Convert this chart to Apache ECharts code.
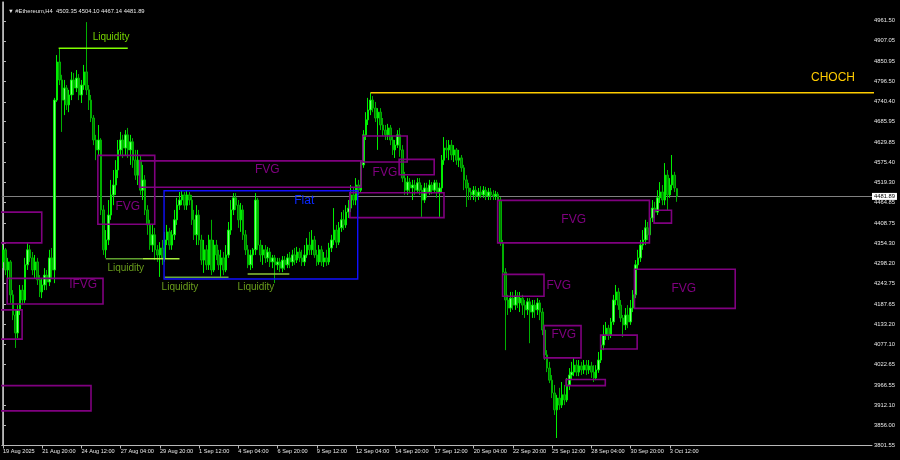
<!DOCTYPE html>
<html><head><meta charset="utf-8">
<script src="https://cdn.jsdelivr.net/npm/echarts@6/dist/echarts.min.js"></script>
<style>html,body{margin:0;padding:0;background:#000}#c{width:900px;height:460px}</style>
</head><body><div id="c"></div>
<script>
// H4 candles [open, close, low, high], first bar 19 Aug 2025 04:00
const candles = [
[4303,4336,4286,4349],[4336,4281,4267,4341],[4281,4303,4199,4314],[4303,4213,4191,4308],
[4213,4158,4144,4226],[4158,4109,4068,4172],[4109,4172,4095,4185],[4172,4226,4158,4240],
[4226,4199,4185,4240],[4199,4295,4191,4314],[4295,4336,4281,4355],[4336,4314,4303,4349],
[4314,4281,4267,4330],[4281,4303,4259,4322],[4303,4254,4240,4314],[4254,4221,4207,4267],
[4221,4240,4204,4259],[4240,4267,4226,4286],[4267,4248,4226,4281],[4248,4314,4237,4336],
[4314,4281,4259,4341],[4281,4745,4245,4751],[4745,4849,4740,4868],[4849,4800,4786,4887],
[4800,4745,4658,4814],[4745,4778,4704,4800],[4778,4732,4718,4786],[4732,4759,4712,4773],
[4759,4800,4745,4822],[4800,4778,4759,4819],[4778,4805,4767,4827],[4805,4759,4745,4816],
[4759,4786,4737,4800],[4786,4822,4773,4841],[4822,4773,4759,4958],[4773,4745,4718,4786],
[4745,4696,4685,4759],[4696,4636,4622,4704],[4636,4609,4581,4650],[4609,4636,4595,4677],
[4636,4445,4431,4641],[4445,4336,4322,4458],[4336,4363,4314,4390],[4363,4431,4349,4472],
[4431,4486,4418,4527],[4486,4513,4458,4554],[4513,4554,4486,4581],[4554,4609,4532,4636],
[4609,4636,4595,4658],[4636,4614,4587,4650],[4614,4650,4595,4663],[4650,4609,4587,4669],
[4609,4631,4568,4650],[4631,4581,4560,4641],[4581,4540,4527,4609],[4540,4581,4513,4609],
[4581,4499,4486,4595],[4499,4527,4472,4568],[4527,4445,4431,4540],[4445,4404,4377,4458],
[4404,4349,4336,4418],[4349,4377,4330,4404],[4377,4336,4308,4396],[4336,4322,4303,4349],
[4322,4341,4262,4357],[4341,4314,4295,4363],[4314,4363,4303,4385],[4363,4385,4349,4404],
[4385,4349,4336,4396],[4349,4377,4336,4390],[4377,4418,4363,4445],[4418,4458,4404,4478],
[4458,4472,4445,4494],[4472,4486,4458,4499],[4486,4458,4445,4494],[4458,4486,4445,4499],
[4486,4472,4458,4494],[4472,4418,4404,4486],[4418,4377,4363,4445],[4377,4431,4349,4458],
[4431,4363,4349,4445],[4363,4308,4295,4377],[4308,4336,4273,4363],[4336,4295,4281,4349],
[4295,4363,4281,4377],[4363,4281,4267,4418],[4281,4349,4275,4363],[4349,4322,4308,4363],
[4322,4295,4281,4336],[4295,4314,4262,4336],[4314,4281,4267,4330],[4281,4322,4275,4349],
[4322,4390,4314,4412],[4390,4445,4377,4472],[4445,4478,4431,4491],[4478,4458,4445,4491],
[4458,4418,4396,4472],[4418,4445,4385,4464],[4445,4377,4363,4458],[4377,4336,4322,4390],
[4336,4295,4286,4349],[4295,4322,4281,4336],[4322,4336,4286,4341],[4336,4472,4322,4491],
[4472,4349,4336,4478],[4349,4322,4303,4363],[4322,4336,4295,4349],[4336,4314,4300,4349],
[4314,4330,4303,4344],[4330,4303,4289,4341],[4303,4314,4286,4322],[4314,4295,4245,4322],
[4295,4303,4281,4314],[4303,4286,4275,4314],[4286,4308,4275,4319],[4308,4295,4281,4319],
[4295,4314,4286,4325],[4314,4303,4286,4330],[4303,4322,4292,4336],[4322,4308,4295,4341],
[4308,4330,4300,4344],[4330,4314,4303,4341],[4314,4303,4292,4336],[4303,4322,4292,4349],
[4322,4349,4314,4368],[4349,4336,4322,4385],[4336,4363,4322,4390],[4363,4322,4314,4374],
[4322,4303,4292,4336],[4303,4336,4295,4349],[4336,4303,4292,4347],[4303,4314,4289,4330],
[4314,4303,4292,4336],[4303,4341,4295,4355],[4341,4363,4330,4377],[4363,4390,4349,4450],
[4390,4357,4341,4404],[4357,4396,4349,4412],[4396,4418,4385,4439],[4418,4404,4390,4445],
[4404,4439,4396,4458],[4439,4450,4423,4472],[4450,4486,4439,4513],[4486,4472,4458,4505],
[4472,4513,4458,4532],[4513,4499,4486,4527],[4499,4568,4494,4581],[4568,4650,4560,4663],
[4650,4691,4636,4712],[4691,4718,4677,4751],[4718,4745,4704,4765],[4745,4723,4712,4756],
[4723,4696,4685,4740],[4696,4712,4609,4723],[4712,4677,4663,4723],[4677,4663,4647,4696],
[4663,4650,4636,4677],[4650,4669,4636,4680],[4669,4636,4622,4677],[4636,4609,4595,4647],
[4609,4622,4587,4636],[4622,4650,4614,4663],[4650,4609,4590,4669],[4609,4532,4521,4622],
[4532,4499,4486,4549],[4499,4521,4486,4538],[4521,4505,4494,4532],[4505,4513,4472,4527],
[4513,4499,4486,4527],[4499,4519,4491,4532],[4519,4499,4486,4532],[4499,4472,4426,4513],
[4472,4505,4464,4519],[4505,4494,4478,4519],[4494,4513,4486,4527],[4513,4499,4488,4521],
[4499,4519,4491,4527],[4519,4494,4478,4527],[4494,4505,4426,4519],[4505,4581,4494,4595],
[4581,4614,4568,4644],[4614,4609,4587,4636],[4609,4622,4581,4636],[4622,4595,4581,4636],
[4595,4609,4576,4622],[4609,4581,4568,4614],[4581,4587,4562,4609],[4587,4560,4549,4595],
[4560,4527,4499,4568],[4527,4505,4453,4540],[4505,4494,4472,4519],[4494,4486,4472,4505],
[4486,4499,4472,4510],[4499,4483,4467,4510],[4483,4494,4472,4505],[4494,4486,4478,4510],
[4486,4499,4478,4510],[4499,4483,4472,4508],[4483,4494,4472,4505],[4494,4486,4472,4505],
[4486,4483,4472,4499],[4483,4488,4472,4497],[4488,4472,4464,4494],[4472,4355,4347,4480],
[4355,4275,4265,4363],[4275,4199,4062,4286],[4199,4177,4158,4213],[4177,4204,4166,4221],
[4204,4185,4172,4221],[4185,4210,4172,4226],[4210,4191,4177,4221],[4191,4204,4166,4221],
[4204,4185,4158,4213],[4185,4172,4150,4199],[4172,4194,4158,4204],[4194,4166,4081,4204],
[4166,4185,4150,4199],[4185,4172,4150,4199],[4172,4191,4158,4204],[4191,4166,4144,4199],
[4166,4117,4103,4177],[4117,4049,4035,4131],[4049,4013,4002,4062],[4013,3980,3972,4030],
[3980,3945,3931,3994],[3945,3899,3885,3967],[3899,3931,3822,3940],[3931,3912,3899,3959],
[3912,3940,3904,3975],[3940,3926,3912,3967],[3926,3967,3920,3986],[3967,3994,3953,4013],
[3994,4002,3980,4030],[4002,4021,3991,4041],[4021,4002,3991,4035],[4002,4019,3991,4035],
[4019,4008,3994,4030],[4008,4021,3997,4035],[4021,4008,3994,4035],[4008,4019,3997,4035],
[4019,4002,3986,4030],[4002,3986,3975,4021],[3986,4008,3980,4021],[4008,4035,4000,4057],
[4035,4076,4027,4090],[4076,4103,4062,4131],[4103,4122,4090,4139],[4122,4103,4090,4131],
[4103,4139,4095,4150],[4139,4199,4131,4213],[4199,4221,4185,4240],[4221,4185,4172,4232],
[4185,4150,4139,4199],[4150,4131,4098,4158],[4131,4158,4117,4177],[4158,4139,4122,4185],
[4139,4177,4131,4199],[4177,4213,4166,4226],[4213,4295,4204,4308],[4295,4314,4281,4336],
[4314,4349,4303,4363],[4349,4363,4336,4390],[4363,4396,4349,4418],[4396,4377,4363,4412],
[4377,4423,4368,4439],[4423,4450,4412,4472],[4450,4439,4423,4467],[4439,4478,4431,4499],
[4478,4494,4464,4521],[4494,4472,4458,4513],[4472,4540,4458,4573],[4540,4486,4445,4554],
[4486,4513,4478,4532],[4513,4540,4499,4595],[4540,4505,4494,4549],[4503.35,4481.89,4467.14,4504.10]
];
const slotCount = 355;               // bar slots across the chart window
const xTickLabels = ['19 Aug 2025','21 Aug 20:00','24 Aug 12:00','27 Aug 04:00','29 Aug 20:00','1 Sep 12:00','4 Sep 04:00','6 Sep 20:00','9 Sep 12:00','12 Sep 04:00','14 Sep 20:00','17 Sep 12:00','20 Sep 04:00','22 Sep 20:00','25 Sep 12:00','28 Sep 04:00','30 Sep 20:00','3 Oct 12:00'];
const xTickStep = 16;
const yTickValues = [4961.50,4907.05,4850.95,4796.50,4740.40,4685.95,4629.85,4575.40,4519.30,4464.85,4408.75,4354.30,4298.20,4243.75,4187.65,4133.20,4077.10,4022.65,3966.55,3912.10,3856.00,3801.55];
const yMin = 3801.55, yMax = 5012.9;
// zones: [fromBar, toBar, upperPrice, lowerPrice]
const fvgBoxes = [
 [-2,15.8,4439,4355],[1.7,40.8,4258,4188],[-2,7.8,4172,4092],[-2,35.9,3965,3896],
 [38.7,61.9,4594,4406],[55.7,146.1,4579,4507],[141.5,179.9,4492,4424],[146.8,164.9,4647,4576],
 [161.6,175.9,4583,4541],[201.8,263.7,4471,4355],[203.8,220.7,4269,4209],[220.7,235.8,4129,4041],
 [229.7,245.7,3982,3965],[243.8,258.7,4103,4065],[257.6,298.7,4283,4176],[265.6,272.7,4444,4409]
];
const fvgLabels = [['IFVG',32.7,4242],['FVG',50.9,4454],['FVG',107.8,4554],['FVG',155.8,4547],
 ['FVG',232.8,4418],['FVG',226.7,4237],['FVG',228.8,4103],['FVG',277.7,4230]];
const flatBox = [65.7,144.7,4497.5,4256.3];
const flatLabel = ['Flat',122.9,4469];
// liquidity: [fromBar, toBar, price]
const liquidityLines = [[22.7,50.9,4886.5],[41.9,57.0,4311.8],[57.0,72.0,4311.8],[65.9,92.0,4261],[99.8,116.8,4270]];
const liquidityLabels = [['Liquidity',36.6,4916],['Liquidity',42.6,4286],['Liquidity',64.7,4234.5],['Liquidity',95.7,4234.5]];
const chochLine = [149.9,360,4765];
const chochLabel = ['CHOCH',338.6,4805];

const last = candles[candles.length-1];
const fmt = v => Number(v).toFixed(2);
const titleText = '▼ #Ethereum,H4  ' + [last[0],last[3],last[2],last[1]].map(fmt).join(' ');
const categories = Array.from({length: slotCount}, (_, i) => String(i));
const isTick = i => i % xTickStep === 0 && i / xTickStep < xTickLabels.length;

const chart = echarts.init(document.getElementById('c'), null, {renderer: 'canvas'});
const FONT = 'Liberation Sans';

function textSeries(list, color, size, align) {
  return {
    type: 'custom', xAxisIndex: 1, yAxisIndex: 0, silent: true, clip: false, z: 20,
    data: list.map(d => [d[1], d[2]]),
    renderItem: (params, api) => {
      const p = api.coord([api.value(0), api.value(1)]);
      return {type: 'text', x: p[0], y: p[1], style: {text: list[params.dataIndex][0], fill: color,
        fontSize: size, fontFamily: FONT, align: align, verticalAlign: 'middle'}};
    }
  };
}
function boxSeries(list, color, width) {
  return {
    type: 'custom', xAxisIndex: 1, yAxisIndex: 0, silent: true, clip: true, z: 15,
    encode: {x: [0, 1], y: [2, 3]},
    data: list,
    renderItem: (params, api) => {
      const a = api.coord([api.value(0), api.value(2)]);
      const b = api.coord([api.value(1), api.value(3)]);
      return {type: 'rect', shape: {x: a[0], y: a[1], width: b[0]-a[0], height: b[1]-a[1]},
        style: {fill: null, stroke: color, lineWidth: width}};
    }
  };
}
function lineSeries(seg, color, width) {
  return {type: 'line', xAxisIndex: 1, yAxisIndex: 0, silent: true, symbol: 'none', z: 12,
    data: [[seg[0], seg[2]], [seg[1], seg[2]]], lineStyle: {color: color, width: width}};
}
const liqColors = ['#7fff00', '#5f9f2f', '#a8f03c', '#6aa83a', '#8cc43a'];

const option = {
  backgroundColor: '#000000',
  animation: false,
  title: {text: titleText, left: 3, top: 3, textStyle: {color: '#e8e8e8', fontSize: 5.8, fontWeight: 'normal', fontFamily: FONT}},
  grid: {left: 1, right: 28, top: 2, bottom: 14.5, containLabel: false},
  xAxis: [{
    type: 'category', data: categories, boundaryGap: true,
    axisLine: {show: true, lineStyle: {color: '#b8b8b8', width: 1}},
    axisTick: {show: true, alignWithLabel: true, interval: (i) => isTick(i), length: 3, lineStyle: {color: '#b8b8b8'}},
    axisLabel: {show: true, interval: (i) => isTick(i), formatter: (v, i) => xTickLabels[i / xTickStep] || '',
      align: 'left', margin: 3, color: '#e8e8e8', fontSize: 5.6, fontFamily: FONT},
    splitLine: {show: false}
  }, {
    type: 'value', min: -0.5, max: slotCount - 0.5, show: false
  }],
  yAxis: [{
    type: 'value', position: 'right', min: yMin, max: yMax, scale: true,
    axisLine: {show: true, lineStyle: {color: '#b8b8b8'}},
    axisTick: {show: true, customValues: yTickValues, length: 3, lineStyle: {color: '#b8b8b8'}},
    axisLabel: {show: true, customValues: yTickValues, formatter: fmt, margin: 2, color: '#e8e8e8', fontSize: 5.8, fontFamily: FONT},
    splitLine: {show: false}
  }, {
    type: 'value', position: 'left', min: yMin, max: yMax,
    axisLine: {show: true, lineStyle: {color: '#9a9a9a'}}, axisTick: {show: false}, axisLabel: {show: false}, splitLine: {show: false}
  }],
  series: [
    {
      type: 'candlestick', xAxisIndex: 0, yAxisIndex: 0, data: candles, barWidth: 2, z: 5,
      itemStyle: {color: '#7dff7d', color0: '#007a00', borderColor: '#00ee00', borderColor0: '#00b000', borderWidth: 1},
      markLine: {
        silent: true, symbol: 'none', z: 3,
        data: [{yAxis: last[1]}],
        lineStyle: {color: '#808080', width: 1, type: 'solid'},
        label: {show: true, position: 'end', distance: 0, formatter: () => fmt(last[1]),
          backgroundColor: '#ffffff', color: '#000000', fontSize: 5.8, fontFamily: FONT, padding: [1, 2, 0, 2]}
      }
    },
    boxSeries(fvgBoxes, '#800080', 1.6),
    boxSeries([flatBox], '#1010ff', 1.4),
    ...liquidityLines.map((s, i) => lineSeries(s, liqColors[i], 1.5)),
    lineSeries(chochLine, '#ffcc00', 1.4),
    textSeries(fvgLabels, '#800080', 12, 'center'),
    textSeries([flatLabel], '#0a28ff', 12, 'center'),
    textSeries(liquidityLabels.slice(0, 1), '#76d400', 10, 'left'),
    textSeries(liquidityLabels.slice(1), '#6a9e1c', 10, 'left'),
    textSeries([chochLabel], '#ffcc00', 12, 'center')
  ]
};
chart.setOption(option);
</script>
</body></html>
